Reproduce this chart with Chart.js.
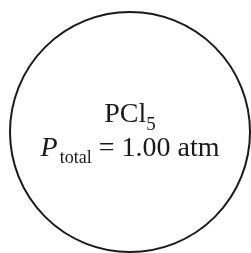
<!DOCTYPE html>
<html>
<head>
<meta charset="utf-8">
<script src="https://cdn.jsdelivr.net/npm/chart.js@4/dist/chart.umd.min.js"></script>
<style>
  html, body { margin: 0; padding: 0; background: #fff; }
  #wrap { width: 251px; height: 253px; }
</style>
</head>
<body>
<div id="wrap"><canvas id="flask"></canvas></div>
<script>
// data
const species = ['PCl', '5'];          // formula + subscript
const pressureLabel = ['P', 'total'];  // symbol + subscript
const pressureValue = [1.00];
const pressureUnit = ['atm'];
const vessel = [{ x: 130, y: 132 }];

const ink = '#1a1a1a';
const serif = '"Liberation Serif", "DejaVu Serif", serif';

// draws the label text inside the circle, at the point's pixel position
const labelPlugin = {
    id: 'labels',
    afterDatasetsDraw(chart) {
        const ctx = chart.ctx;
        const pt = chart.getDatasetMeta(0).data[0];
        const cx = pt.x, cy = pt.y;
        ctx.save();
        ctx.fillStyle = ink;
        ctx.textBaseline = 'alphabetic';
        ctx.textAlign = 'left';

        // line 1: PCl5
        const big = '28px ' + serif, small = '19px ' + serif;
        ctx.font = big;
        const w1 = ctx.measureText(species[0]).width;
        ctx.font = small;
        const w1s = ctx.measureText(species[1]).width;
        let x = cx - (w1 + w1s) / 2;
        const y1 = cy - 10;
        ctx.font = big;
        ctx.fillText(species[0], x, y1);
        ctx.font = small;
        ctx.fillText(species[1], x + w1, y1 + 8);

        // line 2: P_total = 1.00 atm
        const rest = ' = ' + pressureValue[0].toFixed(2) + ' ' + pressureUnit[0];
        ctx.font = 'italic 28px ' + serif;
        const wP = ctx.measureText(pressureLabel[0]).width;
        ctx.font = '18px ' + serif;
        const wSub = ctx.measureText(pressureLabel[1]).width;
        ctx.font = big;
        const wRest = ctx.measureText(rest).width;
        x = cx - (wP + 2 + wSub + wRest) / 2;
        const y2 = cy + 24;
        ctx.font = 'italic 28px ' + serif;
        ctx.fillText(pressureLabel[0], x, y2);
        ctx.font = '18px ' + serif;
        ctx.fillText(pressureLabel[1], x + wP + 2, y2 + 7);
        ctx.font = big;
        ctx.fillText(rest, x + wP + 2 + wSub, y2);
        ctx.restore();
    }
};

new Chart(document.getElementById('flask'), {
    type: 'bubble',
    data: {
        datasets: [{
            data: vessel,
            clip: false,
            radius: 120,
            hoverRadius: 0,
            borderWidth: 2,
            hoverBorderWidth: 2,
            borderColor: ink,
            backgroundColor: 'rgba(255,255,255,0)'
        }]
    },
    options: {
        responsive: true,
        maintainAspectRatio: false,
        animation: false,
        events: [],
        layout: { padding: 0, autoPadding: false },
        plugins: { legend: { display: false }, tooltip: { enabled: false } },
        scales: {
            x: { type: 'linear', display: false, min: 0, max: 251 },
            y: { type: 'linear', display: false, min: 0, max: 253, reverse: true }
        }
    },
    plugins: [labelPlugin]
});
</script>
</body>
</html>
